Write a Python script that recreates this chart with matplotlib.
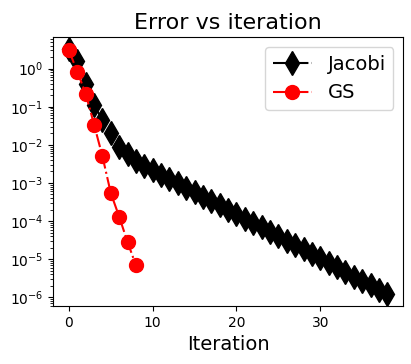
import matplotlib
matplotlib.use('Agg')
import matplotlib.pyplot as plt
import numpy as np

# 迭代误差数据
jacobi_err = [3.2, 1.6, 0.4, 0.11, 0.045, 0.02, 0.009, 0.0056, 0.0037, 0.0028,
              0.0022, 0.00166, 0.00129, 9.8e-4, 7.4e-4, 5.7e-4, 4.4e-4, 3.4e-4, 2.6e-4, 1.95e-4,
              1.5e-4, 1.15e-4, 8.9e-5, 6.8e-5, 5.1e-5, 4.0e-5, 3.0e-5, 2.3e-5, 1.8e-5, 1.35e-5,
              1.05e-5, 7.9e-6, 6.2e-6, 4.7e-6, 3.5e-6, 2.75e-6, 2.1e-6, 1.6e-6, 1.23e-6]
gs_err = [3.0, 0.83, 0.22, 0.034, 0.005, 5.4e-4, 1.3e-4, 2.8e-5, 6.9e-6]

jacobi_it = np.arange(len(jacobi_err))
gs_it = np.arange(len(gs_err))

fig = plt.figure(figsize=(4.11, 3.64), dpi=100)
ax = fig.add_subplot(111)
ax.semilogy(jacobi_it, jacobi_err, 'kd-.', markersize=12, label='Jacobi')
ax.semilogy(gs_it, gs_err, 'ro-.', markersize=10, label='GS')
ax.set_title('Error vs iteration', fontsize=16)
ax.set_xlabel('Iteration', fontsize=14)
ax.legend(fontsize=14)
fig.subplots_adjust(left=0.129, right=0.981, top=0.898, bottom=0.159)
fig.savefig('out.png', dpi=100)
